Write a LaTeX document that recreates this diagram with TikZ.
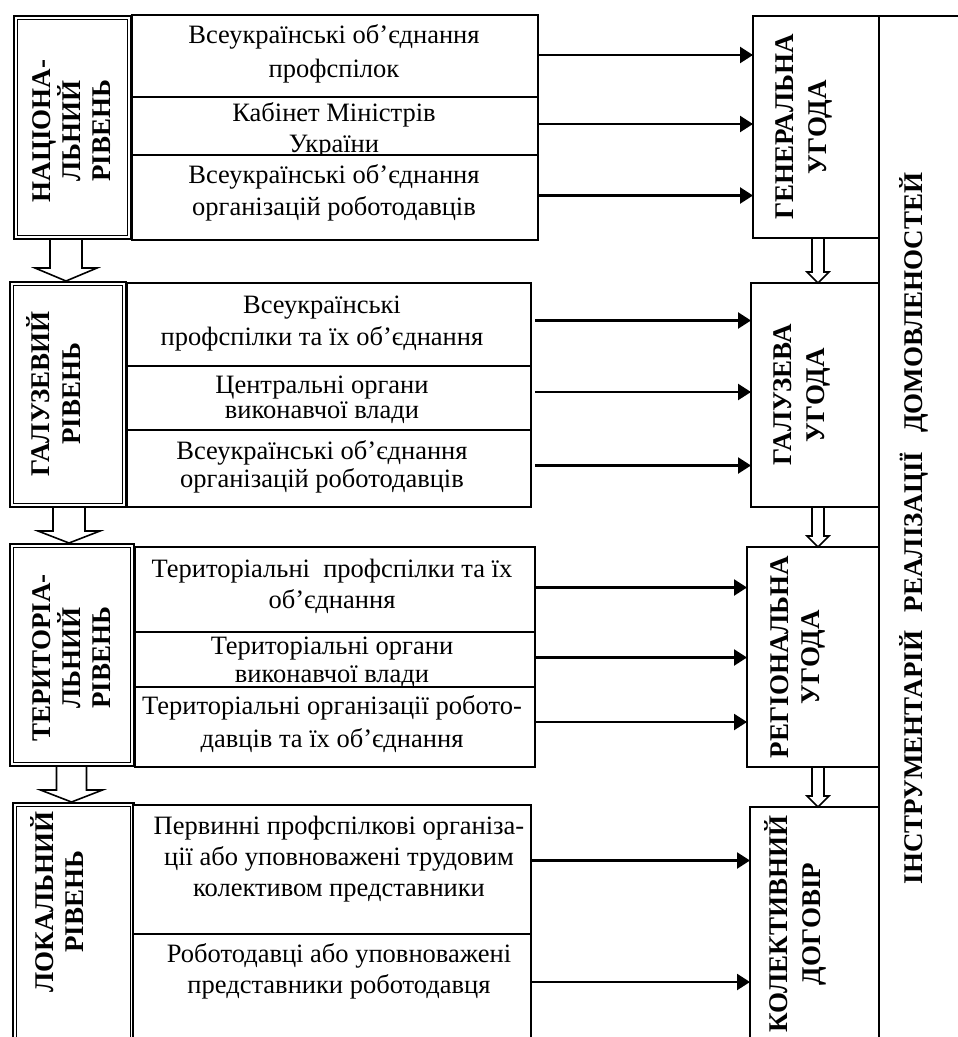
\documentclass[tikz,border=0pt]{standalone}
\usepackage{fontspec}
\setmainfont{Liberation Serif}
\usetikzlibrary{arrows.meta,calc}
\newcommand{\hollowdown}[6]{%
  \draw[hollow] let \p1=(#1), \p2=(#2) in
    ({(#3-#4)*1pt},\y1) -- ({(#3-#4)*1pt},{\y2+#6pt}) -- ({(#3-#5)*1pt},{\y2+#6pt})
    -- ({#3*1pt},\y2) -- ({(#3+#5)*1pt},{\y2+#6pt}) -- ({(#3+#4)*1pt},{\y2+#6pt})
    -- ({(#3+#4)*1pt},\y1);}
\begin{document}
\begin{tikzpicture}[x=1pt,y=-1pt,
  cell/.style={draw, line width=1.5pt, fill=white, rectangle, inner sep=0pt, outer sep=0pt, anchor=north west},
  lvl/.style={draw, double, double distance=2pt, line width=1.7pt, rectangle, inner sep=0pt, outer sep=2.7pt, anchor=north west},
  agr/.style={draw, line width=1.8pt, rectangle, inner sep=0pt, outer sep=0pt, anchor=north west},
  txt/.style={font=\fontsize{26.5}{31}\selectfont, align=center, inner sep=0pt},
  vtxt/.style={font=\fontsize{27}{30}\selectfont\bfseries, align=center, rotate=90, inner sep=0pt},
  arr/.style={line width=2.4pt, -{Triangle[length=13pt,width=16pt]}},
  hollow/.style={line width=1.6pt, line join=miter}
]
\useasboundingbox (0,0) rectangle (958,1037);
\clip (0,0) rectangle (958,1037);

% ---------- level boxes (left) ----------
\node[lvl, minimum width=113.5pt, minimum height=219.5pt] (L1) at (13,15) {};
\node[lvl, minimum width=112.5pt, minimum height=221.5pt] (L2) at (9,281) {};
\node[lvl, minimum width=120.5pt, minimum height=218.5pt] (L3) at (9,543) {};
\node[lvl, minimum width=117.5pt, minimum height=260pt] (L4) at (12,802) {};

\node[vtxt] (tL1) at (72,131) {НАЦІОНА-\\ЛЬНИЙ\\РІВЕНЬ};
\node[vtxt] (tL2) at (54,394) {ГАЛУЗЕВИЙ\\[1pt]РІВЕНЬ};
\node[vtxt] (tL3) at (72,658) {ТЕРИТОРІА-\\ЛЬНИЙ\\РІВЕНЬ};
\node[vtxt] (tL4) at (57.5,902) {ЛОКАЛЬНИЙ\\РІВЕНЬ};

\hollowdown{L1.south}{L2.north}{66}{16}{31}{13}
\hollowdown{L2.south}{L3.north}{69}{16}{31}{12}
\hollowdown{L3.south}{L4.north}{71.5}{15}{31}{12}

% ---------- national level cells ----------
\node[cell, minimum width=406pt, minimum height=82pt] (G1a) at (132,15) {};
\node[txt] (T1a) at (334,54) {Всеукраїнські об’єднання\\[3pt]профспілок};
\node[cell, minimum width=406pt, minimum height=58pt] (G1b) at (132,97) {};
\node[txt] (T1b) at (334,130) {Кабінет Міністрів\\України};
\node[cell, minimum width=406pt, minimum height=85pt] (G1c) at (132,155) {};
\node[txt] (T1c) at (334,193) {Всеукраїнські об’єднання\\[1pt]організацій роботодавців};

% ---------- branch level cells ----------
\node[cell, minimum width=404pt, minimum height=83pt] (G2a) at (127,283) {};
\node[txt] (T2a) at (322,324) {Всеукраїнські\\[1pt]профспілки та їх об’єднання};
\node[cell, minimum width=404pt, minimum height=64pt] (G2b) at (127,366) {};
\node[txt] (T2b) at (322,400) {Центральні органи\\[-6pt]виконавчої влади};
\node[cell, minimum width=404pt, minimum height=77pt] (G2c) at (127,430) {};
\node[txt] (T2c) at (322,467) {Всеукраїнські об’єднання\\[-3pt]організацій роботодавців};

% ---------- territorial level cells ----------
\node[cell, minimum width=400pt, minimum height=85pt] (G3a) at (135,547) {};
\node[txt] (T3a) at (332,586) {Територіальні\ \ профспілки та їх\\об’єднання};
\node[cell, minimum width=400pt, minimum height=55pt] (G3b) at (135,632) {};
\node[txt] (T3b) at (332,662) {Територіальні органи\\[-3pt]виконавчої влади};
\node[cell, minimum width=400pt, minimum height=80pt] (G3c) at (135,687) {};
\node[txt] (T3c) at (332,724) {Територіальні організації робото-\\[2pt]давців та їх об’єднання};

% ---------- local level cells ----------
\node[cell, minimum width=398pt, minimum height=129pt] (G4a) at (133,805) {};
\node[txt] (T4a) at (339,859) {Первинні профспілкові організа-\\ції або уповноважені трудовим\\колективом представники};
\node[cell, minimum width=398pt, minimum height=120pt] (G4b) at (133,934) {};
\node[txt] (T4b) at (339,971) {Роботодавці або уповноважені\\представники роботодавця};

% ---------- agreement boxes (right) ----------
\node[agr, minimum width=126pt, minimum height=222pt] (R1) at (753,16) {};
\node[agr, minimum width=128pt, minimum height=224pt] (R2) at (751,283) {};
\node[agr, minimum width=132pt, minimum height=220pt] (R3) at (747,547) {};
\node[agr, minimum width=129pt, minimum height=250pt] (R4) at (750,807) {};

\node[vtxt] (tR1) at (803.5,127) {ГЕНЕРАЛЬНА\\[3pt]УГОДА};
\node[vtxt] (tR2) at (801.5,395) {ГАЛУЗЕВА\\[3pt]УГОДА};
\node[vtxt] (tR3) at (797.5,657) {РЕГІОНАЛЬНА\\[1pt]УГОДА};
\node[vtxt] (tR4) at (795,924) {КОЛЕКТИВНИЙ\\[3pt]ДОГОВІР};

\hollowdown{R1.south}{R2.north}{818}{6}{11}{11}
\hollowdown{R2.south}{R3.north}{818}{6}{11}{11}
\hollowdown{R3.south}{R4.north}{818}{6}{11}{11}

% ---------- instruments column ----------
\coordinate (instrTR) at (960,16);
\coordinate (instrB) at (879,1045);
\draw[line width=1.8pt] (instrTR) -- (R1.north east) -- (instrB);
\node[vtxt] (instr) at (914,528.5) {ІНСТРУМЕНТАРІЙ\hspace{0.7em}РЕАЛІЗАЦІЇ\hspace{0.7em}ДОМОВЛЕНОСТЕЙ};

% ---------- arrows ----------
\draw[arr] ([yshift=1pt]G1a.east) -- ([yshift=1pt]G1a.east -| R1.west);
\draw[arr] ([yshift=2pt]G1b.east) -- ([yshift=2pt]G1b.east -| R1.west);
\draw[arr] ([yshift=2pt]G1c.east) -- ([yshift=2pt]G1c.east -| R1.west);

\draw[arr, shorten <=4pt] ([yshift=4pt]G2a.east) -- ([yshift=4pt]G2a.east -| R2.west);
\draw[arr, shorten <=4pt] ([yshift=6pt]G2b.east) -- ([yshift=6pt]G2b.east -| R2.west);
\draw[arr, shorten <=4pt] ([yshift=3pt]G2c.east) -- ([yshift=3pt]G2c.east -| R2.west);

\draw[arr] ([yshift=2pt]G3a.east) -- ([yshift=2pt]G3a.east -| R3.west);
\draw[arr] ([yshift=2pt]G3b.east) -- ([yshift=2pt]G3b.east -| R3.west);
\draw[arr] ([yshift=5pt]G3c.east) -- ([yshift=5pt]G3c.east -| R3.west);

\draw[arr] ([yshift=9pt]G4a.east) -- ([yshift=9pt]G4a.east -| R4.west);
\draw[arr] ([yshift=12pt]G4b.east) -- ([yshift=12pt]G4b.east -| R4.west);
\end{tikzpicture}
\end{document}
